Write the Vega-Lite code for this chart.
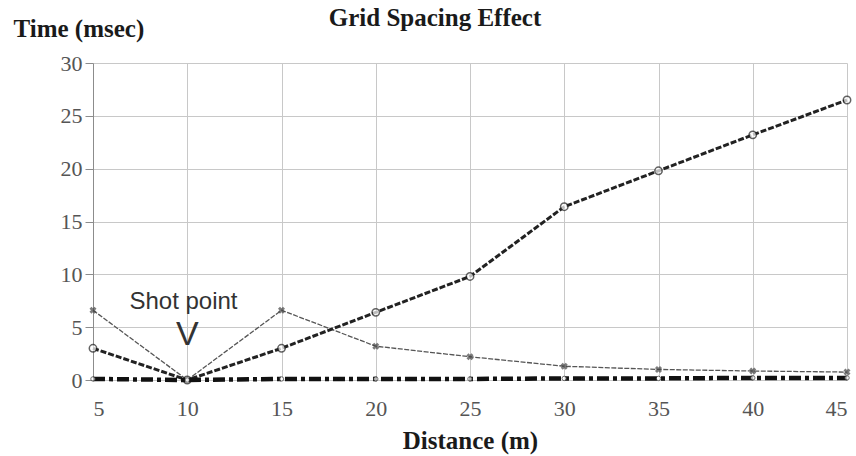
{
  "$schema": "https://vega.github.io/schema/vega-lite/v6.json",
  "autosize": {"type": "none"},
  "width": 754,
  "height": 317,
  "padding": {"left": 93, "top": 63, "right": 9, "bottom": 76},
  "background": "white",
  "title": {
    "text": "Grid Spacing Effect",
    "font": "Liberation Serif",
    "fontSize": 25,
    "fontWeight": "bold",
    "color": "#1a1a1a",
    "anchor": "middle",
    "frame": "group",
    "dx": -35,
    "offset": -15
  },
  "config": {
    "view": {"stroke": null},
    "axis": {
      "labelFont": "Liberation Serif",
      "labelFontSize": 22,
      "labelColor": "#555555",
      "titleFont": "Liberation Serif",
      "titleFontSize": 25,
      "titleFontWeight": "bold",
      "titleColor": "#1a1a1a",
      "gridColor": "#c8c8c8",
      "gridWidth": 1,
      "domainColor": "#8c8c8c",
      "tickColor": "#8c8c8c"
    }
  },
  "datasets": {
    "grid": [
      {"distance": 5, "series": "coarse", "time": 3.0},
      {"distance": 10, "series": "coarse", "time": 0},
      {"distance": 15, "series": "coarse", "time": 3.0},
      {"distance": 20, "series": "coarse", "time": 6.4},
      {"distance": 25, "series": "coarse", "time": 9.8},
      {"distance": 30, "series": "coarse", "time": 16.4},
      {"distance": 35, "series": "coarse", "time": 19.8},
      {"distance": 40, "series": "coarse", "time": 23.2},
      {"distance": 45, "series": "coarse", "time": 26.5},
      {"distance": 5, "series": "medium", "time": 6.6},
      {"distance": 10, "series": "medium", "time": 0},
      {"distance": 15, "series": "medium", "time": 6.6},
      {"distance": 20, "series": "medium", "time": 3.2},
      {"distance": 25, "series": "medium", "time": 2.2},
      {"distance": 30, "series": "medium", "time": 1.3},
      {"distance": 35, "series": "medium", "time": 1.0},
      {"distance": 40, "series": "medium", "time": 0.85},
      {"distance": 45, "series": "medium", "time": 0.75},
      {"distance": 5, "series": "fine", "time": 0.1},
      {"distance": 10, "series": "fine", "time": 0},
      {"distance": 15, "series": "fine", "time": 0.1},
      {"distance": 20, "series": "fine", "time": 0.1},
      {"distance": 25, "series": "fine", "time": 0.1},
      {"distance": 30, "series": "fine", "time": 0.15},
      {"distance": 35, "series": "fine", "time": 0.15},
      {"distance": 40, "series": "fine", "time": 0.2},
      {"distance": 45, "series": "fine", "time": 0.2}
    ],
    "notes": [
      {"distance": 9.8, "time": 7.4, "label": "Shot point", "size": 24},
      {"distance": 10.0, "time": 4.3, "label": "V", "size": 34}
    ]
  },
  "encoding": {
    "x": {
      "field": "distance",
      "type": "quantitative",
      "scale": {"domain": [5, 45], "nice": false, "zero": false},
      "axis": {
        "values": [5, 10, 15, 20, 25, 30, 35, 40, 45],
        "title": "Distance (m)",
        "ticks": false,
        "domain": false,
        "labelPadding": 18,
        "titleY": 60,
        "titleBaseline": "middle"
      }
    },
    "y": {
      "field": "time",
      "type": "quantitative",
      "scale": {"domain": [0, 30], "nice": false},
      "axis": {
        "values": [0, 5, 10, 15, 20, 25, 30],
        "title": "Time (msec)",
        "tickSize": 8,
        "labelPadding": 3,
        "titleAngle": 0,
        "titleAlign": "left",
        "titleBaseline": "middle",
        "titleX": -80,
        "titleY": -35
      }
    }
  },
  "layer": [
    {
      "data": {"name": "grid"},
      "transform": [{"filter": "datum.series === 'medium'"}],
      "mark": {"type": "line", "color": "#555555", "strokeWidth": 1.3, "strokeDash": [5, 1.5]}
    },
    {
      "data": {"name": "grid"},
      "transform": [{"filter": "datum.series === 'medium'"}],
      "mark": {"type": "point", "shape": "cross", "angle": 45, "size": 50, "filled": true, "color": "#444444"}
    },
    {
      "data": {"name": "grid"},
      "transform": [{"filter": "datum.series === 'coarse'"}],
      "mark": {"type": "line", "color": "#222222", "strokeWidth": 3, "strokeDash": [6, 2]}
    },
    {
      "data": {"name": "grid"},
      "transform": [{"filter": "datum.series === 'coarse'"}],
      "mark": {"type": "point", "shape": "circle", "size": 55, "filled": true, "fill": "white", "stroke": "#222222", "strokeWidth": 1.5}
    },
    {
      "data": {"name": "grid"},
      "transform": [{"filter": "datum.series === 'fine'"}],
      "mark": {"type": "line", "color": "#111111", "strokeWidth": 4.5, "strokeDash": [12, 4, 4, 4]}
    },
    {
      "data": {"name": "grid"},
      "transform": [{"filter": "datum.series === 'fine'"}],
      "mark": {"type": "point", "shape": "circle", "size": 20, "filled": true, "fill": "white", "stroke": "#333333", "strokeWidth": 1}
    },
    {
      "data": {"name": "notes"},
      "mark": {"type": "text", "font": "Liberation Sans", "color": "#333333", "align": "center", "baseline": "middle"},
      "encoding": {
        "text": {"field": "label"},
        "size": {"field": "size", "type": "quantitative", "scale": null}
      }
    }
  ]
}
